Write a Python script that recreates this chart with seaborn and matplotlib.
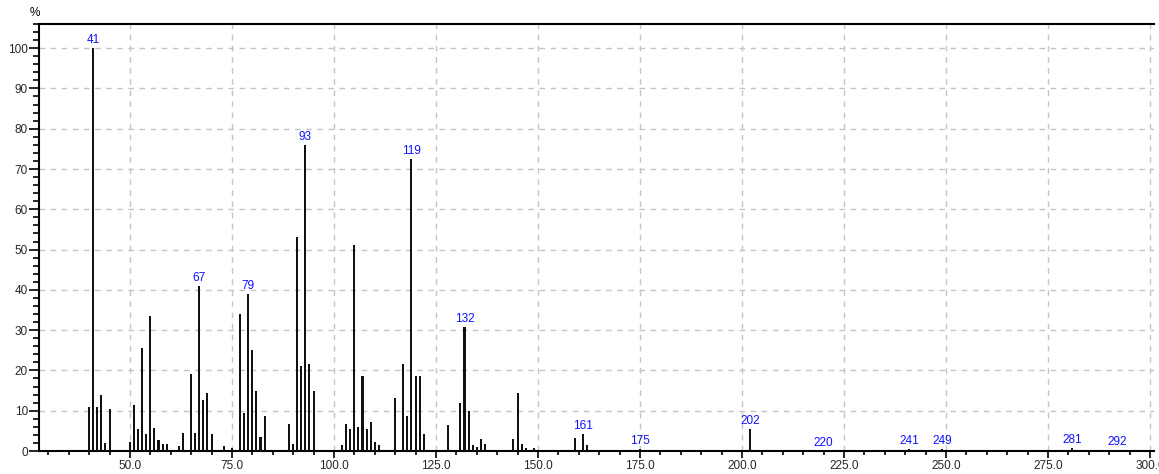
import matplotlib

matplotlib.use("Agg")
import matplotlib.pyplot as plt
import pandas as pd
import seaborn as sns
from matplotlib.ticker import FixedLocator, MultipleLocator, FormatStrFormatter

# ───────────────────────────────────────────────────────────────
# Data
# ───────────────────────────────────────────────────────────────
mz = [
    40, 41, 42, 43, 44, 45,
    50, 51, 52, 53, 54, 55, 56, 57, 58, 59,
    62, 63, 65, 66, 67, 68, 69, 70, 73, 75,
    77, 78, 79, 80, 81, 82, 83,
    89, 90, 91, 92, 93, 94, 95,
    102, 103, 104, 105, 106, 107, 108, 109, 110, 111,
    115, 117, 118, 119, 120, 121, 122,
    128, 131, 132, 133, 134, 135, 136, 137,
    144, 145, 146, 147, 149,
    159, 161, 162,
    175, 202, 220, 241, 249, 281, 292,
]
intensity = [
    11, 100, 11, 14, 2, 10.5,
    2.2, 11.3, 5.5, 25.5, 4.1, 33.5, 5.8, 2.8, 1.8, 1.8,
    1.3, 4.5, 19, 4.5, 41, 12.7, 14.4, 4.1, 1.3, 0.8,
    34, 9.5, 39, 25, 15, 3.6, 8.6,
    6.8, 1.8, 53, 21, 76, 21.7, 15,
    1.4, 6.8, 5.4, 51.2, 6, 18.6, 5.4, 7.2, 2.2, 1.4,
    13.2, 21.7, 8.7, 72.4, 18.6, 18.6, 4.1,
    6.4, 11.8, 30.8, 9.9, 1.4, 1.0, 3.1, 1.8,
    3.1, 14.4, 1.8, 0.8, 0.8,
    3.2, 4.1, 1.4,
    0.5, 5.4, 0.1, 0.4, 0.4, 0.7, 0.2,
]
labeled_peaks = [41, 67, 79, 93, 119, 132, 161, 175, 202, 220, 241, 249, 281, 292]

x_ticks = [50, 75, 100, 125, 150, 175, 200, 225, 250, 275, 300]
y_ticks = [0, 10, 20, 30, 40, 50, 60, 70, 80, 90, 100]

# ───────────────────────────────────────────────────────────────
# Plot
# ───────────────────────────────────────────────────────────────
sns.set_theme(style="white")
plt.rcParams["font.family"] = ["Liberation Sans", "DejaVu Sans"]

df = pd.DataFrame({"mz": mz, "intensity": intensity})

fig = plt.figure(figsize=(11.59, 4.74), dpi=100)
ax = fig.add_axes([0.0336, 0.0485, 0.9621, 0.9009])

sns.barplot(
    data=df,
    x="mz",
    y="intensity",
    native_scale=True,
    width=0.5,
    color="#111111",
    saturation=1,
    linewidth=0,
    errorbar=None,
    ax=ax,
    zorder=3,
)

lookup = dict(zip(mz, intensity))
for peak in labeled_peaks:
    ax.annotate(
        str(peak),
        xy=(peak, lookup[peak]),
        xytext=(0, 1.5),
        textcoords="offset points",
        ha="center",
        va="bottom",
        color="#1010ff",
        fontsize=8.5,
        zorder=4,
    )

ax.set_xlim(27.7, 301)
ax.set_ylim(0, 106)

ax.xaxis.set_major_locator(FixedLocator(x_ticks))
ax.xaxis.set_major_formatter(FormatStrFormatter("%.1f"))
ax.xaxis.set_minor_locator(MultipleLocator(5))
ax.yaxis.set_major_locator(FixedLocator(y_ticks))
ax.yaxis.set_minor_locator(MultipleLocator(2))

ax.tick_params(axis="x", which="major", direction="out", length=5, width=1.2,
               labelsize=8.5, pad=1.5, bottom=True, color="black")
ax.tick_params(axis="x", which="minor", direction="out", length=3, width=1.2,
               bottom=True, color="black")
ax.tick_params(axis="y", which="major", direction="out", length=7, width=1.2,
               labelsize=8.5, pad=1, left=True, color="black")
ax.tick_params(axis="y", which="minor", direction="out", length=4, width=1.2,
               left=True, color="black")

ax.grid(True, which="major", color="#c4c4c4", linestyle=(0, (4, 4)), linewidth=1)
ax.set_axisbelow(True)

for side in ["top", "bottom", "left"]:
    ax.spines[side].set_color("black")
    ax.spines[side].set_linewidth(1.5)
ax.spines["right"].set_visible(False)

ax.set_xlabel("")
ax.set_ylabel("")
ax.text(-0.004, 1.012, "%", transform=ax.transAxes, ha="center", va="bottom",
        fontsize=8.5, color="black")

fig.savefig("out.png", dpi=100)
plt.close(fig)
